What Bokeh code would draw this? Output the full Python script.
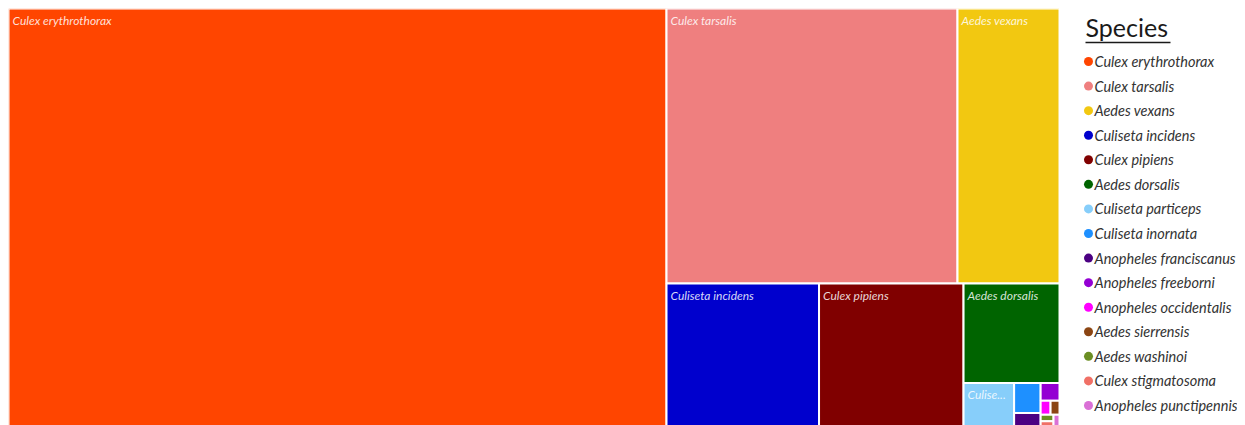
import math
from bokeh.plotting import figure
from bokeh.layouts import row
from bokeh.models import ColumnDataSource, Range1d
from bokeh.core.properties import value
from bokeh.embed import file_html
from bokeh.resources import INLINE

# ---- data (estimated counts per species) ----
species = [
    "Culex erythrothorax", "Culex tarsalis", "Aedes vexans", "Culiseta incidens",
    "Culex pipiens", "Aedes dorsalis", "Culiseta particeps", "Culiseta inornata",
    "Anopheles franciscanus", "Anopheles freeborni", "Anopheles occidentalis",
    "Aedes sierrensis", "Aedes washinoi", "Culex stigmatosoma", "Anopheles punctipennis",
]
counts = [275700, 80025, 28050, 21960, 20808, 9552, 2247, 795, 384, 332, 140, 126, 84, 80, 76]
colors = [
    "#FF4500", "#EF7F7F", "#F2C811", "#0000CD", "#800000", "#006400", "#87CEFA",
    "#1E90FF", "#4B0082", "#9400D3", "#FF00FF", "#8B4513", "#6B8E23", "#F07066", "#DA70D6",
]

# ---- layout constants ----
MARGIN = 8
TM_W, TM_H = 1051, 419      # treemap layout box (px units)
FRAME_H = 417
LEG_W = 178
PHI = (1 + 5 ** 0.5) / 2


def squarify(vals, x0, y0, x1, y1, ratio=PHI):
    """d3-style squarified treemap (ratio = golden ratio)."""
    rects = []
    n = len(vals)
    total = float(sum(vals))
    i0 = i1 = 0
    while i0 < n:
        dx, dy = x1 - x0, y1 - y0
        s = vals[i1]
        i1 += 1
        mn = mx = s
        alpha = max(dy / dx, dx / dy) / (total * ratio)
        beta = s * s * alpha
        min_ratio = max(mx / beta, beta / mn)
        while i1 < n:
            v = vals[i1]
            s += v
            mn = min(mn, v)
            mx = max(mx, v)
            beta = s * s * alpha
            new_ratio = max(mx / beta, beta / mn)
            if new_ratio > min_ratio:
                s -= v
                break
            min_ratio = new_ratio
            i1 += 1
        rowv = vals[i0:i1]
        if dx < dy:
            yb = y0 + dy * s / total
            x = x0
            for v in rowv:
                w = dx * v / s
                rects.append((x, y0, x + w, yb))
                x += w
            y0 = yb
        else:
            xb = x0 + dx * s / total
            y = y0
            for v in rowv:
                h = dy * v / s
                rects.append((x0, y, xb, y + h))
                y += h
            x0 = xb
        total -= s
        i0 = i1
    return rects


rects = squarify(counts, 0, 0, TM_W, TM_H)
left = [r[0] for r in rects]
top = [r[1] for r in rects]
right = [r[2] for r in rects]
bottom = [r[3] for r in rects]

src = ColumnDataSource(dict(left=left, right=right, top=top, bottom=bottom,
                            color=colors, name=species))

p = figure(width=TM_W + MARGIN, height=FRAME_H + MARGIN, output_backend="svg",
           toolbar_location=None,
           x_range=Range1d(0, TM_W), y_range=Range1d(FRAME_H, 0),
           min_border_left=MARGIN, min_border_right=0,
           min_border_top=MARGIN, min_border_bottom=0,
           x_axis_location=None, y_axis_location=None, outline_line_color=None)
p.xgrid.visible = False
p.ygrid.visible = False
p.quad(left="left", right="right", top="top", bottom="bottom", source=src,
       fill_color="color", line_color="white", line_width=2)

# labels with truncation
CHW = 5.4
lx, ly, lt = [], [], []
for (x0, y0, x1, y1), nm in zip(rects, species):
    w, h = x1 - x0, y1 - y0
    if h < 20 or w < 30:
        continue
    if len(nm) * CHW <= w - 10:
        txt = nm
    else:
        k = int((w - 18) / CHW)
        if k < 4:
            continue
        txt = nm[:k] + "..."
    lx.append(x0 + 4)
    ly.append(y0 + 4)
    lt.append(txt)
p.text(x=lx, y=ly, text=lt, text_font=value("Lato"), text_font_size="12px",
       text_font_style="italic", text_color="white", text_alpha=0.85,
       text_baseline="top", text_align="left")

# ---- legend (same frame alignment as treemap; data units = page px) ----
LEG_H = FRAME_H + MARGIN
leg = figure(width=LEG_W, height=LEG_H, output_backend="svg", toolbar_location=None,
             x_range=Range1d(0, LEG_W), y_range=Range1d(LEG_H, MARGIN),
             min_border_left=0, min_border_right=0,
             min_border_top=MARGIN, min_border_bottom=0,
             x_axis_location=None, y_axis_location=None,
             outline_line_color=None)
leg.xgrid.visible = False
leg.ygrid.visible = False
leg.text(x=[26], y=[26], text=["Species"], text_font=value("Lato"),
         text_font_size="25px", text_color="#1a1a1a", text_baseline="alphabetic")
leg.segment(x0=[26], y0=[42], x1=[111], y1=[42], line_color="#1a1a1a", line_width=1.6)
ys = [61 + 24.57 * i for i in range(len(species))]
leg.scatter(x=[29] * len(species), y=ys, size=9, marker="circle",
            fill_color=colors, line_color=None)
leg.text(x=[35] * len(species), y=ys, text=species, text_font=value("Lato"),
         text_font_size="14.5px", text_font_style="italic", text_color="#333333",
         text_baseline="middle", text_align="left")

layout = row(p, leg)
open("out.html", "w").write(file_html(layout, INLINE))
